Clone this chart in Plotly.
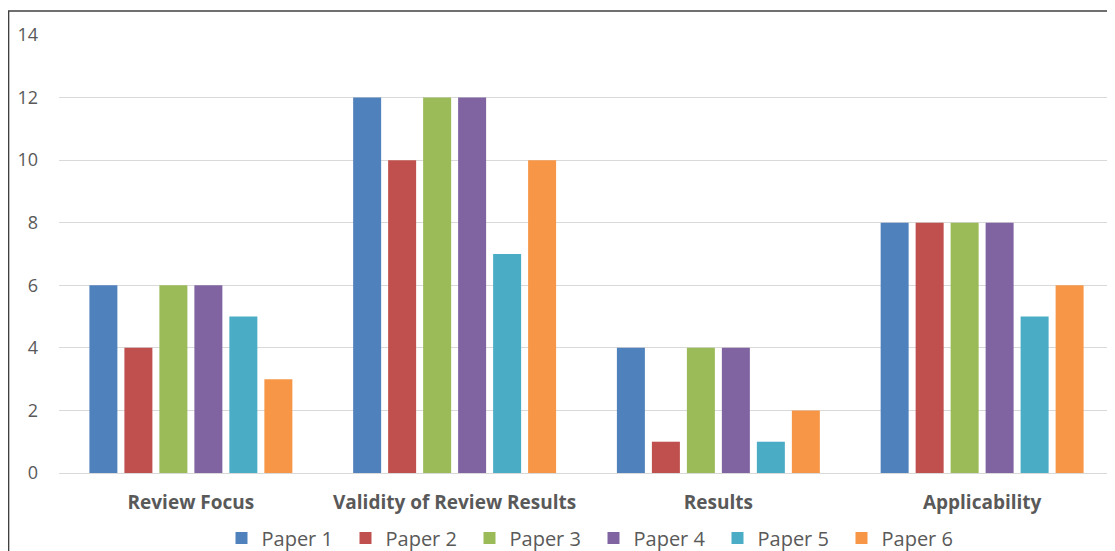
import plotly.graph_objects as go

categories = ["Review Focus", "Validity of Review Results", "Results", "Applicability"]
series_names = ["Paper 1", "Paper 2", "Paper 3", "Paper 4", "Paper 5", "Paper 6"]
paper1 = [6, 12, 4, 8]
paper2 = [4, 10, 1, 8]
paper3 = [6, 12, 4, 8]
paper4 = [6, 12, 4, 8]
paper5 = [5, 7, 1, 5]
paper6 = [3, 10, 2, 6]
values = [paper1, paper2, paper3, paper4, paper5, paper6]
colors = ["#4F81BD", "#C0504D", "#9BBB59", "#8064A2", "#4BACC6", "#F79646"]
y_ticks = [0, 2, 4, 6, 8, 10, 12, 14]

fig = go.Figure()
for name, vals, col in zip(series_names, values, colors):
    fig.add_trace(go.Bar(name=name, x=categories, y=vals, marker_color=col,
                         marker_line_width=0))

font_family = "Open Sans, Liberation Sans, Arial, sans-serif"
W, H = 1107, 543
fig.update_layout(
    width=W, height=H,
    margin=dict(l=51, r=1, t=27, b=78),
    paper_bgcolor="white", plot_bgcolor="white",
    barmode="group", bargap=0.204, bargroupgap=0.2,
    font=dict(family=font_family, color="#595959"),
    xaxis=dict(tickfont=dict(size=19, color="#595959", family=font_family, weight="bold"),
               showline=False, showgrid=False, ticks="", ticklabelstandoff=16),
    yaxis=dict(range=[0, 14], tickvals=y_ticks, showgrid=True, gridcolor="#D9D9D9",
               gridwidth=1, zeroline=True, zerolinecolor="#D9D9D9", zerolinewidth=1,
               tickfont=dict(size=18, color="#595959"), ticklabelstandoff=20),
    legend=dict(orientation="h", x=0.5 + 7 / 1055, xanchor="center", xref="paper",
                y=(H - 530) / H, yanchor="middle", yref="container",
                font=dict(size=20, color="#595959"), itemwidth=30,
                entrywidth=79, entrywidthmode="pixels", traceorder="normal"),
    showlegend=True,
    shapes=[dict(type="rect", xref="paper", yref="paper", x0=-0.0478, x1=1.2,
                 y0=-0.4, y1=1.0548, line=dict(color="#404040", width=1.5),
                 fillcolor="rgba(0,0,0,0)", layer="above")],
)
fig.write_html("out.html")
